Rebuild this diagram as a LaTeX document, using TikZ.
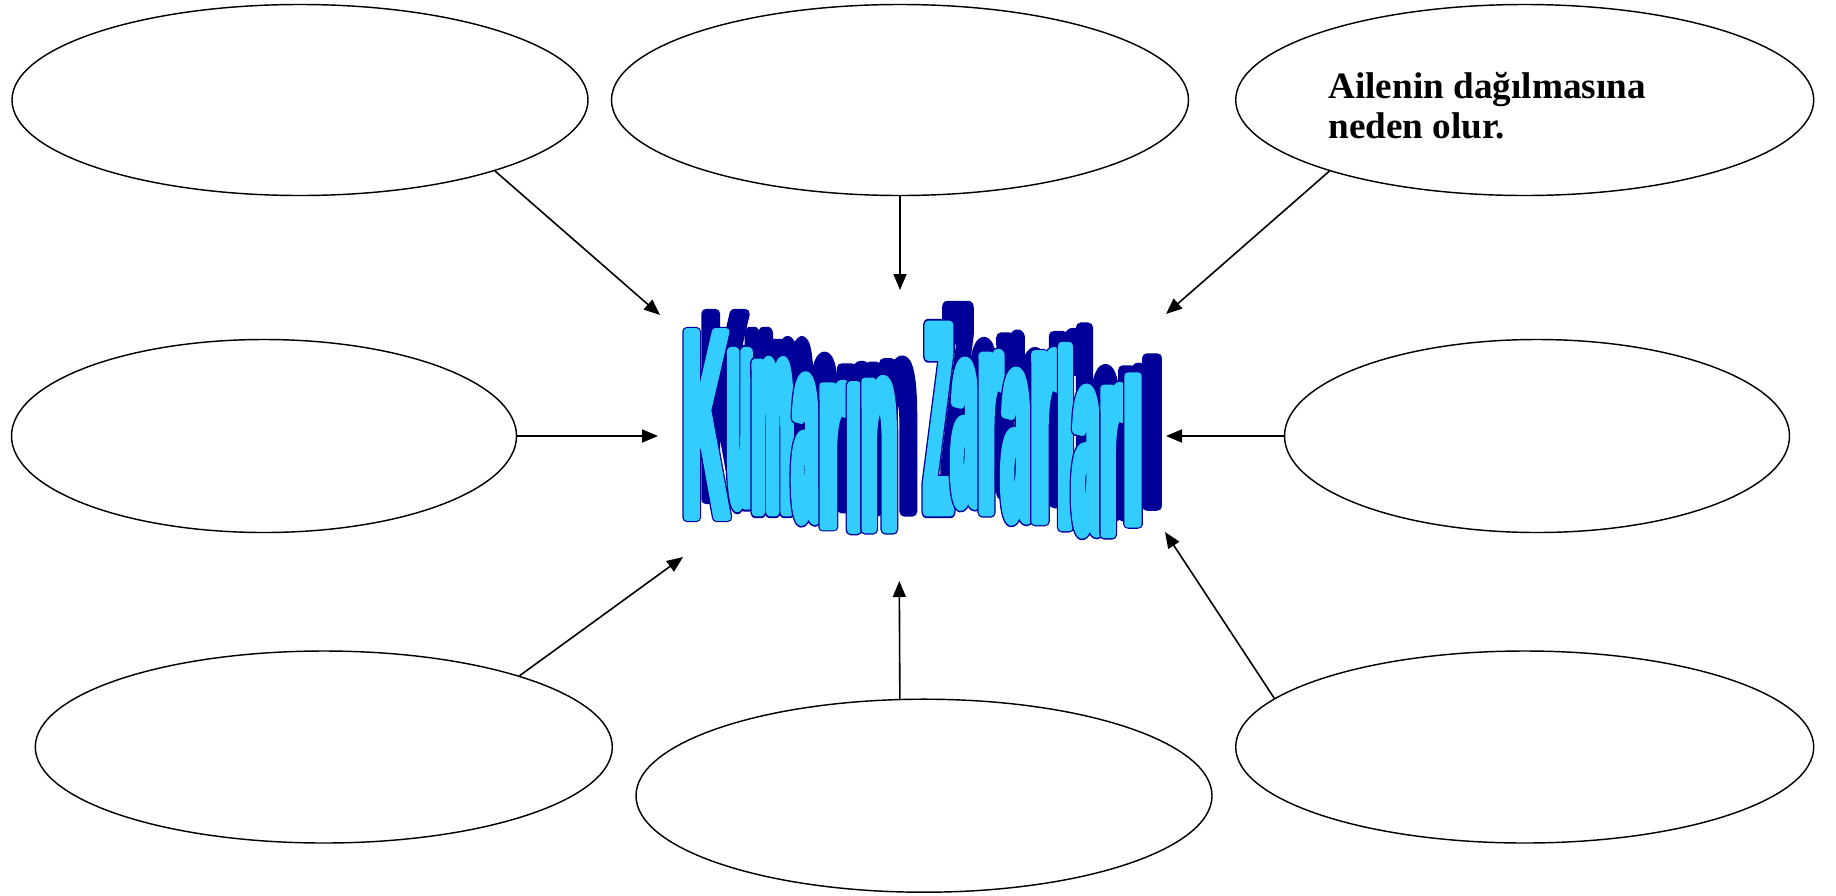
\documentclass[tikz,border=0pt]{standalone}
\usepackage{fontspec}
\setmainfont{Liberation Serif}
\newfontfamily\wafont[FakeStretch=0.22]{Liberation Sans}
\usetikzlibrary{arrows.meta,shapes.geometric}
\definecolor{wafill}{HTML}{33CCFF}
\definecolor{wadark}{HTML}{000099}
\newlength\waadv
\newcommand\walit[1]{\special{pdf:literal direct #1}}
\newcommand\waglyph[1]{{\wafont\bfseries\fontsize{130pt}{130pt}\selectfont #1}}
\newcommand\wameasure[1]{\settowidth\waadv{\waglyph{#1}}%
  \pgfmathsetmacro\sx{\wW/\waadv}%
  \pgfmathsetmacro\wo{4.9/\sx}%
  \pgfmathsetmacro\wf{3.6/\sx}}
\newcommand\washadow[1]{\wameasure{#1}%
  \walit{0 0 0.6 rg 0 0 0.6 RG 2 Tr 1 j \wo\space w}\resizebox{\wW}{\hH}{\waglyph{#1}}\walit{0 Tr}}
\newcommand\waface[1]{\wameasure{#1}%
  \rlap{\walit{0 0 0.6 rg 0 0 0.6 RG 2 Tr 1 j \wo\space w}\resizebox{\wW}{\hH}{\waglyph{#1}}}%
  \walit{0.2 0.8 1 rg 0.2 0.8 1 RG 2 Tr 1 j \wf\space w}\resizebox{\wW}{\hH}{\waglyph{#1}}\walit{0 Tr}}
\newcommand\waletters{
  1/K/683/728/326/523, 2/u/728/752/350/512, 3/m/752/793/355/517,
  4/a/793/818/373/527, 5/r/818/847/377/533, 6/ı/847/861/380/535,
  7/n/861/897/373/535, 8/Z/925/952/320/517, 9/a/952/978/358/512,
  10/r/978/1002/347/518, 11/a/1002/1030/368/527, 12/r/1030/1058/345/527,
  13/l/1058/1073/340/533, 14/a/1073/1100/385/540, 15/r/1100/1123/380/540,
  16/ı/1123/1143/370/530}
\begin{document}
\begin{tikzpicture}[x=0.5pt,y=-0.5pt,
  ell/.style={draw, ellipse, line width=0.72pt, inner sep=0},
  con/.style={line width=0.8pt, -{Triangle[length=8pt,width=6.5pt]}},
  wal/.style={inner sep=0, outer sep=0, anchor=south west}]
\path[fill=white] (0,0) rectangle (1836,895);
\useasboundingbox (0,0) rectangle (1836,895);
% ellipses
\node[ell, minimum width=288pt, minimum height=95.5pt] (e1) at (300,100) {};
\node[ell, minimum width=288.5pt, minimum height=95.5pt] (e2) at (900,100) {};
\node[ell, minimum width=289pt, minimum height=95.5pt] (e3) at (1524.7,100) {};
\node[ell, minimum width=252.5pt, minimum height=96.5pt] (e4) at (264,436) {};
\node[ell, minimum width=252.5pt, minimum height=96.5pt] (e5) at (1537,436) {};
\node[ell, minimum width=288.5pt, minimum height=96pt] (e6) at (323.8,747) {};
\node[ell, minimum width=288pt, minimum height=96.5pt] (e7) at (924,795.7) {};
\node[ell, minimum width=289pt, minimum height=96pt] (e8) at (1524.7,747) {};
% text
\node[anchor=north west, inner sep=0, align=left,
  font=\bfseries\fontsize{18.6pt}{20pt}\selectfont] (tx) at (1328,72)
  {Ailenin dağılmasına\\neden olur.};
% arrow targets
\coordinate (t1) at (660,315);
\coordinate (t2) at (900,290);
\coordinate (t3) at (1166,314);
\coordinate (t4) at (658,436);
\coordinate (t5) at (1166,436);
\coordinate (t6) at (683,557);
\coordinate (t7) at (899.3,581);
\coordinate (t8) at (1165,532);
\draw[con] (e1.-20.6) -- (t1);
\draw[con] (e2.south) -- (t2);
\draw[con] (e3.200.6) -- (t3);
\draw[con] (e4.east) -- (t4);
\draw[con] (e5.west) -- (t5);
\draw[con] (e6.20.3) -- (t6);
\draw[con] (e7.104.5) -- (t7);
\draw[con] (e8.169) -- (t8);
% title: shadow
\foreach \n/\ch/\xl/\xr/\tp/\bt in \waletters {
  \pgfmathsetlengthmacro\wW{(\xr-\xl)*0.5pt}
  \pgfmathsetlengthmacro\hH{(\bt-\tp-11)*0.5pt}
  \node[wal, text=wadark] (s\n) at (\xl+19,\bt-23.5) {\washadow{\ch}};
}
% title: face with outline
\foreach \n/\ch/\xl/\xr/\tp/\bt in \waletters {
  \pgfmathsetlengthmacro\wW{(\xr-\xl)*0.5pt}
  \pgfmathsetlengthmacro\hH{(\bt-\tp-11)*0.5pt}
  \node[wal, text=wafill] (f\n) at (\xl,\bt-5.5) {\waface{\ch}};
}
\end{tikzpicture}
\end{document}
